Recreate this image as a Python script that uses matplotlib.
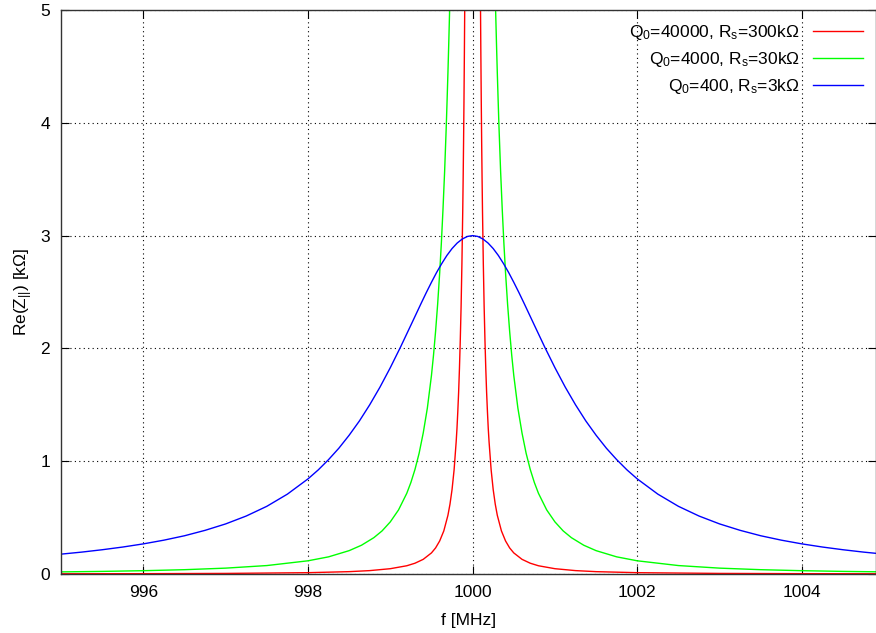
import numpy as np
import matplotlib
matplotlib.use('Agg')
import matplotlib.pyplot as plt

plt.rcParams['font.family'] = ['Liberation Sans', 'DejaVu Sans']
plt.rcParams['mathtext.fontset'] = 'custom'
plt.rcParams['mathtext.rm'] = 'Liberation Sans'
plt.rcParams['mathtext.it'] = 'Liberation Sans'

F0 = 1000.0  # resonance [MHz]

# offsets from resonance [MHz] and Re(Z) [kOhm] (curves are symmetric)
red_df = [0, 0.05, 0.08, 0.085, 0.09, 0.095, 0.1, 0.105, 0.11, 0.115, 0.12, 0.13, 0.14, 0.15,
          0.16, 0.17, 0.18, 0.19, 0.2, 0.225, 0.25, 0.275, 0.3, 0.35, 0.4, 0.45, 0.5, 0.6,
          0.7, 0.8, 1.0, 1.25, 1.5, 2.0, 3.0, 4.0, 5.0]
red_re = [300, 17.6, 7.15, 6.35, 5.68, 5.10, 4.62, 4.19, 3.82, 3.50, 3.22, 2.75, 2.37, 2.07,
          1.82, 1.61, 1.44, 1.29, 1.17, 0.923, 0.748, 0.619, 0.52, 0.382, 0.293, 0.231, 0.187, 0.130,
          0.0956, 0.073, 0.047, 0.030, 0.0208, 0.0117, 0.0052, 0.0029, 0.0019]

green_df = [0, 0.15, 0.2, 0.25, 0.27, 0.28, 0.29, 0.3, 0.31, 0.32, 0.34, 0.36, 0.38, 0.4,
            0.425, 0.45, 0.475, 0.5, 0.55, 0.6, 0.65, 0.7, 0.75, 0.8, 0.9, 1.0, 1.1, 1.2,
            1.35, 1.5, 1.75, 2.0, 2.5, 3.0, 3.5, 4.0, 4.5, 5.0]
green_re = [30, 12.3, 8.43, 6.0, 5.29, 4.98, 4.70, 4.44, 4.20, 3.97, 3.57, 3.23, 2.93, 2.67,
            2.39, 2.15, 1.94, 1.76, 1.47, 1.25, 1.07, 0.927, 0.811, 0.715, 0.568, 0.462, 0.382, 0.322,
            0.255, 0.207, 0.152, 0.117, 0.0748, 0.052, 0.0382, 0.0293, 0.0231, 0.0187]

blue_df = [0, 0.0625, 0.125, 0.1875, 0.25, 0.3125, 0.375, 0.4375, 0.5, 0.5625, 0.625, 0.6875,
           0.75, 0.875, 1.0, 1.125, 1.25, 1.375, 1.5, 1.625, 1.75, 1.875, 2.0, 2.25, 2.5, 2.75,
           3.0, 3.25, 3.5, 3.75, 4.0, 4.25, 4.5, 4.75, 5.0]
blue_re = [3.0, 2.9925, 2.970, 2.934, 2.885, 2.824, 2.752, 2.673, 2.586, 2.495, 2.4, 2.303,
           2.206, 2.013, 1.829, 1.657, 1.5, 1.357, 1.23, 1.115, 1.014, 0.923, 0.843, 0.708, 0.6, 0.514,
           0.444, 0.387, 0.339, 0.3, 0.267, 0.239, 0.215, 0.194, 0.176]

labels = [r'Q$_0$=40000, R$_\mathrm{s}$=300k$\Omega$',
          r'Q$_0$=4000, R$_\mathrm{s}$=30k$\Omega$',
          r'Q$_0$=400, R$_\mathrm{s}$=3k$\Omega$']
colors = ['#ff0000', '#00ff00', '#0000ff']

xticks = [996, 998, 1000, 1002, 1004]
yticks = [0, 1, 2, 3, 4, 5]


def mirror(df, re):
    df = np.array(df)
    re = np.array(re)
    x = np.concatenate((F0 - df[:0:-1], F0 + df))
    y = np.concatenate((re[:0:-1], re))
    return x, y


FS = 12.5
fig = plt.figure(figsize=(8.76, 6.33), dpi=100)
ax = fig.add_axes((61/876, 59/633, 1 - 61/876, 564/633))

for (df, re), c, lab in zip([(red_df, red_re), (green_df, green_re), (blue_df, blue_re)], colors, labels):
    x, y = mirror(df, re)
    ax.plot(x, y, color=c, lw=1.0, label=lab)

ax.set_xlim(995, 1004.9)
ax.set_ylim(0, 5)
ax.set_xticks(xticks)
ax.set_yticks(yticks)
ax.grid(True, color='black', ls=(0, (1, 3)), lw=0.8)
ax.tick_params(direction='in', top=True, right=True, length=6, labelsize=FS, pad=8)
for s in ax.spines.values():
    s.set_linewidth(1.0)
    s.set_color('#333333')

ax.set_xlabel('f [MHz]', fontsize=FS, labelpad=9)
ax.set_ylabel(r'Re(Z$_{||}$) [k$\Omega$]', fontsize=FS, labelpad=4)

leg = ax.legend(loc='upper right', frameon=False, markerfirst=False, fontsize=FS,
                handlelength=2.9, handletextpad=0.75, labelspacing=0.45,
                borderaxespad=0, borderpad=0, bbox_to_anchor=(0.984, 0.977))
for t in leg.get_texts():
    t.set_ha('right')
leg._legend_box.align = 'right'

fig.savefig('out.png', dpi=100)
